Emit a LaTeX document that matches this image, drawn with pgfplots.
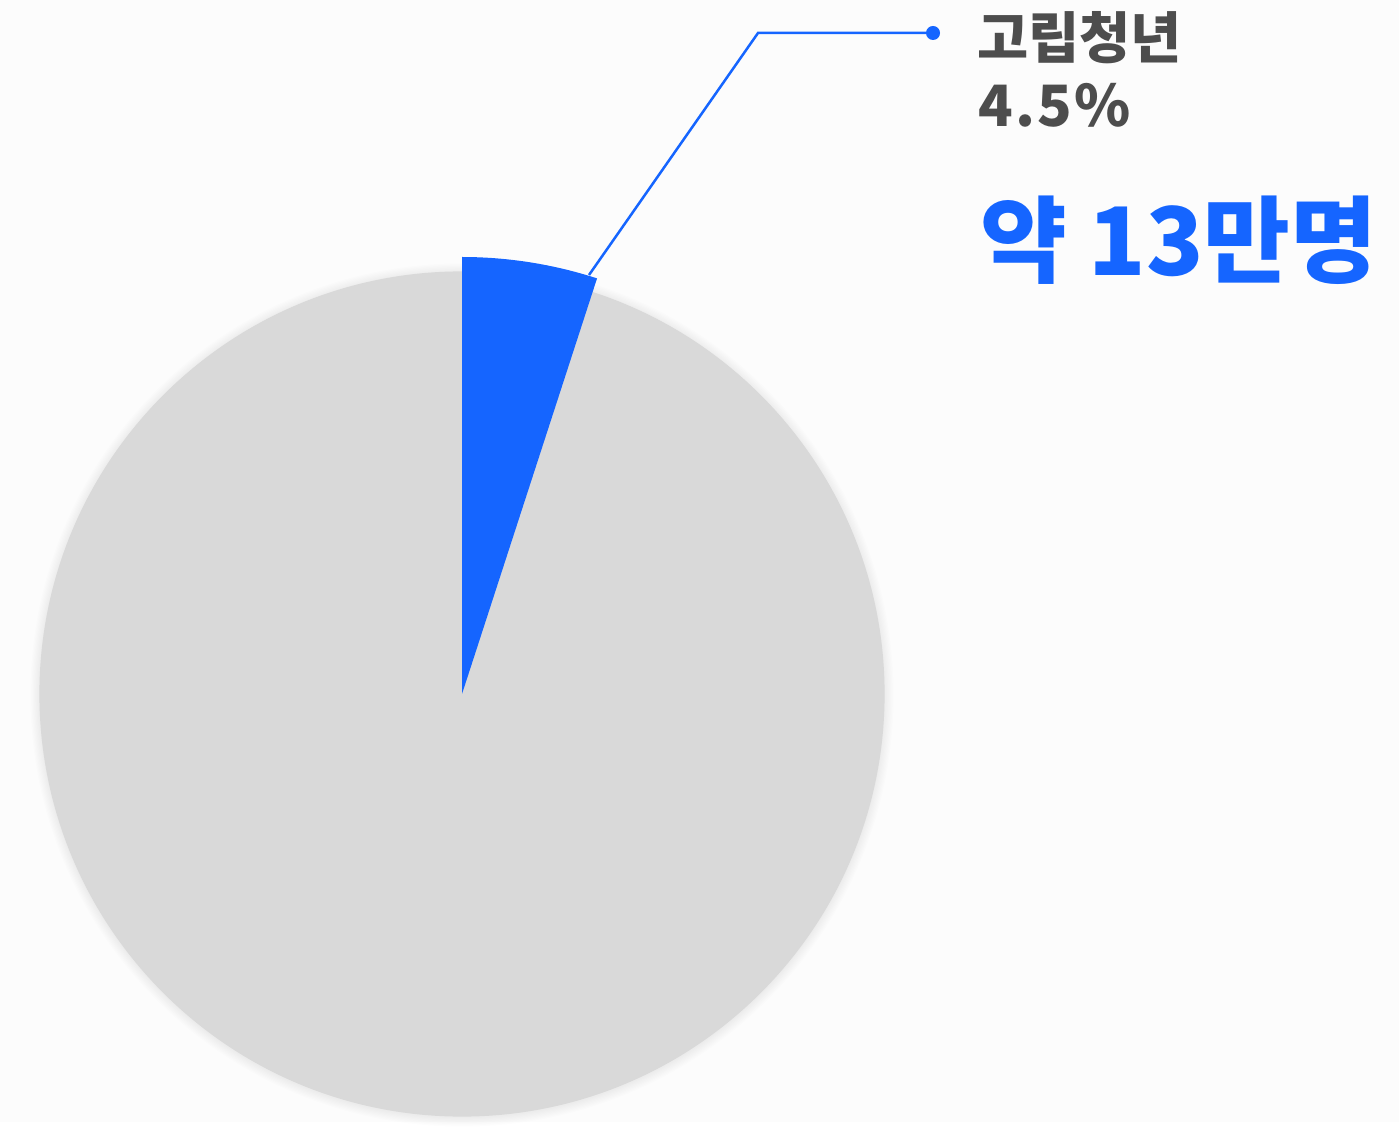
\documentclass[border=0pt]{standalone}
\usepackage{pgfplots}
\pgfplotsset{compat=1.18}
\usepackage{fontspec}
\newfontfamily\kr{Noto Sans CJK KR}
\definecolor{bg}{HTML}{FCFCFC}
\definecolor{piegray}{HTML}{D9D9D9}
\definecolor{pieblue}{HTML}{1565FF}
\definecolor{txtgray}{HTML}{4D4D4D}
\begin{document}
\begin{tikzpicture}
% slice share as drawn in the picture (sweep)
\pgfmathsetmacro{\share}{5.0}
\pgfmathsetmacro{\endang}{90-\share*3.6}
\begin{axis}[hide axis, scale only axis, width=699.5pt, height=561pt,
  xmin=0, xmax=1399, ymin=0, ymax=1122, clip=false]
\fill[bg] (axis cs:0,0) rectangle (axis cs:1399,1122);
\pgfplotsinvokeforeach{1,...,8}{
  \fill[black,opacity=0.006] (axis cs:462,427) circle[radius={(211+0.6*#1)*1pt}];
}
\fill[piegray] (axis cs:462,428) circle[radius=211.3pt];
\fill[pieblue] (axis cs:462,428) -- ++(90:218.5pt) arc[start angle=90, end angle=\endang, radius=218.5pt] -- cycle;
\draw[pieblue, line width=1.25pt] (axis cs:589,847) -- (axis cs:758,1089) -- (axis cs:933,1089);
\fill[pieblue] (axis cs:933,1089) circle[radius=3.5pt];
\node[anchor=base west, inner sep=0, text=txtgray, font=\kr\bfseries\fontsize{27.8pt}{32pt}\selectfont] at (axis cs:977,1063) {고립청년};
\node[anchor=base west, inner sep=0, text=txtgray, font=\kr\bfseries\fontsize{28.5pt}{32pt}\selectfont] at (axis cs:978,995) {4\kern1pt.\kern1pt5\kern1.2pt\%};
\node[anchor=base west, inner sep=0, text=pieblue, font=\kr\bfseries\fontsize{47.2pt}{52pt}\selectfont] at (axis cs:980,846) {약 13만명};
\end{axis}
\end{tikzpicture}
\end{document}
